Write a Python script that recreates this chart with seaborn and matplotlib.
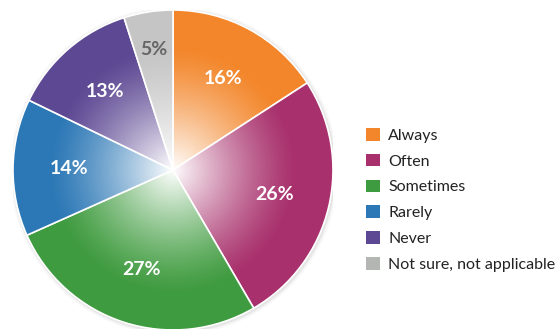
import numpy as np
import matplotlib
matplotlib.use('Agg')
import matplotlib.pyplot as plt
import seaborn as sns
from matplotlib.patches import Circle, Patch

sns.set_theme(style='white')
plt.rcParams['font.family'] = ['Lato', 'DejaVu Sans']

labels = ['Always', 'Often', 'Sometimes', 'Rarely', 'Never', 'Not sure, not applicable']
values = [16, 26, 27, 14, 13, 5]
colors = ['#F3862A', '#A8306C', '#3F9B3F', '#2C78B6', '#5D4893', '#C4C5C4']
legend_colors = ['#F3862A', '#A8306C', '#3F9B3F', '#2C78B6', '#5D4893', '#B4B6B4']

fig = plt.figure(figsize=(5.6, 3.29), dpi=100)
ax = fig.add_axes([13 / 560, -1 / 329, 320 / 560, 320 / 329])
ax.axis('off')

# soft shadow
for k, a in zip([1.025, 1.015, 1.008], [0.06, 0.08, 0.1]):
    ax.add_patch(Circle((0.006, -0.006), k, color='#888888', alpha=a, lw=0, zorder=0))

wedges, _ = ax.pie(values, colors=colors, startangle=90, counterclock=False,
                   radius=1, wedgeprops=dict(edgecolor='white', linewidth=1.2, zorder=1))

# radial white gradient over the pie
n = 400
xx, yy = np.meshgrid(np.linspace(-1, 1, n), np.linspace(-1, 1, n))
rr = np.sqrt(xx ** 2 + yy ** 2)
alpha = np.clip(1 - rr / 0.78, 0, 1) ** 1.3
img = np.zeros((n, n, 4))
img[..., :3] = 1.0
img[..., 3] = alpha
im = ax.imshow(img, extent=(-1, 1, -1, 1), origin='lower', zorder=2, interpolation='bilinear')
clip = Circle((0, 0), 1, transform=ax.transData)
im.set_clip_path(clip)
ax.set_xlim(-1.0, 1.0)
ax.set_ylim(-1.0, 1.0)
ax.set_aspect('equal')

# percentage labels
total = sum(values)
start = 90
for v, lab in zip(values, labels):
    mid = start - 360 * v / total / 2
    start -= 360 * v / total
    d = 0.76 if v < 8 else 0.65
    x = d * np.cos(np.radians(mid))
    y = d * np.sin(np.radians(mid))
    c = '#666666' if v < 8 else 'white'
    ax.text(x, y, f'{v}%', ha='center', va='center', color=c,
            fontsize=14, fontweight='bold', zorder=5)

handles = [Patch(facecolor=c, edgecolor='none') for c in legend_colors]
fig.legend(handles, labels, loc='upper left', bbox_to_anchor=(358 / 560, 1 - 120 / 329),
           frameon=False, fontsize=11.5, handlelength=0.85, handleheight=0.85,
           handletextpad=0.55, labelspacing=0.68, borderpad=0, labelcolor='#222222')

fig.savefig('out.png', dpi=100)
